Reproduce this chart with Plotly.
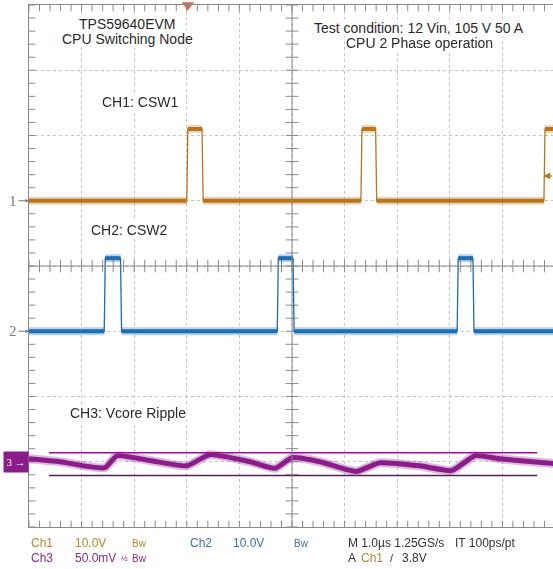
import plotly.graph_objects as go

# scope settings (1 us/div, 8 vertical divisions)
ch1_scale = 10.0   # V/div
ch2_scale = 10.0   # V/div
ch3_scale = 50.0   # mV/div
ch1_offset = 1.0   # div
ch2_offset = -1.0
ch3_offset = -3.0

# CH1: CSW1 switching node (us, V)
ch1_t = [0.0, 3.00, 3.02, 3.29, 3.31, 6.31, 6.33, 6.59, 6.61, 9.79, 9.81, 10.0]
ch1_v = [0.0, 0.0, 11.0, 11.0, 0.0, 0.0, 11.0, 11.0, 0.0, 0.0, 11.0, 11.0]

# CH2: CSW2 switching node (us, V)
ch2_t = [0.0, 1.43, 1.45, 1.74, 1.76, 4.72, 4.74, 5.02, 5.04, 8.14, 8.16, 8.44, 8.46, 10.0]
ch2_v = [0.0, 0.0, 11.2, 11.2, 0.0, 0.0, 11.2, 11.2, 0.0, 0.0, 11.2, 11.2, 0.0, 0.0]

# CH3: Vcore ripple (us, mV)
ch3_t = [0.0, 0.59, 1.44, 1.67, 2.30, 3.00, 3.43, 4.20, 4.68, 5.00, 5.53,
         6.22, 6.67, 7.43, 8.04, 8.48, 8.95, 9.52, 10.0]
ch3_mv = [2.3, 0.0, -4.6, 4.6, 1.0, -3.1, 5.4, 0.0, -5.0, 3.1, 0.0,
          -7.4, -0.8, -3.1, -6.7, 4.6, 2.3, 0.2, -1.5]

# horizontal cursors on CH3 (mV) and their time span (us)
cursor_mv = [6.9, -10.5]
cursor_span = [0.38, 9.66]

trig_time = 3.02
trig_level = 3.8   # V on CH1

c1 = "#b7761c"
c2 = "#1d6db3"
c3 = "#8a1d8a"
c1_txt = "#b8862e"
c2_txt = "#3d6fa8"
c3_txt = "#862d86"

W, H = 553, 569
L, T, B = 29, 5, 42
PW, PH = W - L, H - T - B
DIV_X = 52.6


def px(x):
    return (x - L) / PW


def py(y):
    return (H - B - y) / PH


def levels(t, v):
    xs, ys = [], []
    for i in range(len(t) - 1):
        if v[i] == v[i + 1]:
            xs += [t[i], t[i + 1], None]
            ys += [v[i], v[i + 1], None]
    return xs, ys


fig = go.Figure()

# crosshair ticks on centre lines and edges
tx = [i * 0.2 for i in range(51)]
ty = [-4 + i * 0.2 for i in range(41)]
tick = dict(color="#8a8a8a", size=9, line=dict(color="#8a8a8a", width=1))
fig.add_trace(go.Scatter(x=tx, y=[0] * len(tx), mode="markers",
                         marker=dict(symbol="line-ns", **tick), hoverinfo="skip"))
fig.add_trace(go.Scatter(x=tx, y=[4] * len(tx), mode="markers",
                         marker=dict(symbol="line-ns", **tick), hoverinfo="skip"))
fig.add_trace(go.Scatter(x=tx, y=[-4] * len(tx), mode="markers",
                         marker=dict(symbol="line-ns", **tick), hoverinfo="skip"))
fig.add_trace(go.Scatter(x=[5] * len(ty), y=ty, mode="markers",
                         marker=dict(symbol="line-ew", **tick), hoverinfo="skip"))
fig.add_trace(go.Scatter(x=[0] * len(ty), y=ty, mode="markers",
                         marker=dict(symbol="line-ew", **tick), hoverinfo="skip"))

fig.add_shape(type="line", x0=0, x1=10, y0=0, y1=0, line=dict(color="#8a8a8a", width=1))
fig.add_shape(type="line", x0=5, x1=5, y0=-4, y1=4, line=dict(color="#8a8a8a", width=1))

# CH1
y1 = [ch1_offset + v / ch1_scale for v in ch1_v]
fig.add_trace(go.Scatter(x=ch1_t, y=y1, mode="lines",
                         line=dict(color=c1, width=1.3), hoverinfo="skip"))
lx, ly = levels(ch1_t, y1)
fig.add_trace(go.Scatter(x=lx, y=ly, mode="lines", opacity=0.3,
                         line=dict(color=c1, width=8), hoverinfo="skip"))
fig.add_trace(go.Scatter(x=lx, y=ly, mode="lines",
                         line=dict(color=c1, width=4), hoverinfo="skip"))

# CH2
y2 = [ch2_offset + v / ch2_scale for v in ch2_v]
fig.add_trace(go.Scatter(x=ch2_t, y=y2, mode="lines",
                         line=dict(color=c2, width=1.3), hoverinfo="skip"))
lx, ly = levels(ch2_t, y2)
fig.add_trace(go.Scatter(x=lx, y=ly, mode="lines", opacity=0.3,
                         line=dict(color=c2, width=8), hoverinfo="skip"))
fig.add_trace(go.Scatter(x=lx, y=ly, mode="lines",
                         line=dict(color=c2, width=4), hoverinfo="skip"))

# CH3 cursors + ripple
for mv, col in zip(cursor_mv, [c3, "#4d2350"]):
    yc = ch3_offset + mv / ch3_scale
    fig.add_trace(go.Scatter(x=cursor_span, y=[yc, yc], mode="lines",
                             line=dict(color=col, width=1.5), hoverinfo="skip"))
y3 = [ch3_offset + mv / ch3_scale for mv in ch3_mv]
fig.add_trace(go.Scatter(x=ch3_t, y=y3, mode="lines", opacity=0.3,
                         line=dict(color=c3, width=9, shape="spline", smoothing=0.5),
                         hoverinfo="skip"))
fig.add_trace(go.Scatter(x=ch3_t, y=y3, mode="lines",
                         line=dict(color=c3, width=5, shape="spline", smoothing=0.5),
                         hoverinfo="skip"))

# trigger position marker
fig.add_trace(go.Scatter(x=[trig_time], y=[4], mode="markers", cliponaxis=False,
                         marker=dict(symbol="triangle-down", size=11, color="#e8683a"),
                         hoverinfo="skip"))

ann = []
# trigger level arrow on right
ann.append(dict(x=9.78, y=ch1_offset + trig_level / ch1_scale, xref="x", yref="y",
                text="", showarrow=True, ax=14, ay=0, arrowhead=2, arrowsize=0.9,
                arrowwidth=1.5, arrowcolor=c1))
# channel ground markers
for lab, off in [("1", ch1_offset), ("2", ch2_offset)]:
    ann.append(dict(x=0, y=off, xref="x", yref="y", text=lab, showarrow=True,
                    ax=-16, ay=0, arrowhead=2, arrowsize=0.7, arrowwidth=1,
                    arrowcolor="#777", font=dict(size=15, color="#777",
                                                 family="Liberation Sans Narrow")))
ann.append(dict(x=0, y=ch3_offset, xref="paper", yref="y", xanchor="right",
                text="3 \u2192", showarrow=False, bgcolor=c3, width=22, height=18,
                font=dict(size=11, color="white", family="Liberation Sans Narrow")))

title_font = dict(family="Liberation Sans, Arial, sans-serif", size=14, color="#2a2a2a")
for txt, x, y in [("TPS59640EVM", 127, 24), ("CPU Switching Node", 127, 39),
                  ("Test condition: 12 Vin, 105 V 50 A", 419, 28),
                  ("CPU 2 Phase operation", 419, 43),
                  ("CH1: CSW1", 140, 102), ("CH2: CSW2", 129, 230),
                  ("CH3: Vcore Ripple", 128, 413)]:
    ann.append(dict(x=px(x), y=py(y), xref="paper", yref="paper", text=txt,
                    showarrow=False, font=title_font, xanchor="center", yanchor="middle",
                    bgcolor="white", borderpad=0))

nf = "Liberation Sans Narrow, Arial Narrow, sans-serif"
status = [("Ch1", 29, 543, c1_txt, 12), ("10.0V", 73, 543, c1_txt, 12),
          ("Bw", 130, 543, c1_txt, 10), ("Ch2", 188, 543, c2_txt, 12),
          ("10.0V", 231, 543, c2_txt, 12), ("Bw", 292, 543, c2_txt, 10),
          ("M 1.0\u00b5s 1.25GS/s", 346, 543, "#333", 12),
          ("IT 100ps/pt", 453, 543, "#333", 12),
          ("Ch3", 29, 558, c3_txt, 12), ("50.0mV", 73, 558, c3_txt, 12),
          ("\u00bd", 119, 558, c3_txt, 8), ("Bw", 130, 558, c3_txt, 10),
          ("A", 346, 558, "#333", 12), ("Ch1", 359, 558, c1_txt, 12),
          ("/", 388, 558, "#333", 11), ("3.8V", 400, 558, "#333", 12)]
for txt, x, y, col, sz in status:
    ann.append(dict(x=px(x), y=py(y), xref="paper", yref="paper", text=txt,
                    showarrow=False, xanchor="left", yanchor="middle",
                    font=dict(family=nf, size=sz, color=col)))

fig.update_layout(
    width=W, height=H,
    margin=dict(l=L, r=0, t=T, b=B),
    paper_bgcolor="white", plot_bgcolor="white",
    showlegend=False,
    annotations=ann,
    xaxis=dict(range=[0, PW / DIV_X], dtick=1, tick0=0, showgrid=True,
               gridcolor="#c4c4c4", griddash="dot", gridwidth=1, zeroline=False,
               showticklabels=False, ticks="", showline=True, mirror=True,
               linecolor="#8a8a8a", linewidth=1, fixedrange=True),
    yaxis=dict(range=[-4, 4], dtick=1, tick0=0, showgrid=True,
               gridcolor="#c4c4c4", griddash="dot", gridwidth=1, zeroline=False,
               showticklabels=False, ticks="", showline=True, mirror=True,
               linecolor="#8a8a8a", linewidth=1, fixedrange=True),
)

fig.write_html("out.html", config={"displayModeBar": False},
               post_script="document.body.style.margin='0';"
                           "document.body.style.overflow='hidden';")
